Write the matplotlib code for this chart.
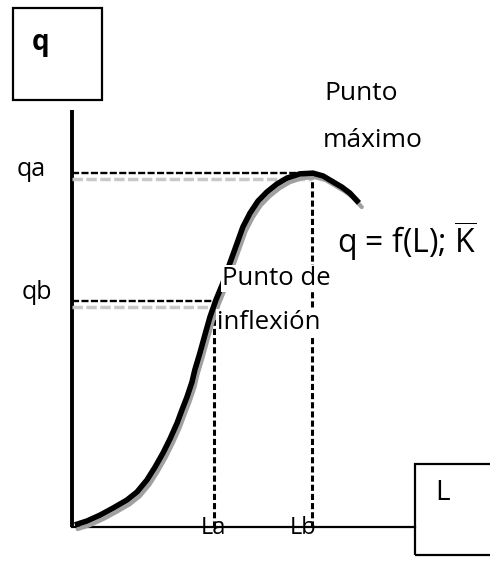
import matplotlib
matplotlib.use('Agg')
import matplotlib.pyplot as plt
import matplotlib.transforms as mtransforms
from matplotlib.patches import Rectangle

plt.rcParams['font.family'] = ['Open Sans', 'DejaVu Sans']
plt.rcParams['mathtext.fontset'] = 'custom'
plt.rcParams['mathtext.rm'] = 'Open Sans'

# curve (L units, q units)
L = [0.12, 0.62, 1.17, 1.71, 2.29, 2.71, 3.12, 3.46, 3.79, 4.08, 4.38, 4.58,
     4.79, 5.0, 5.12, 5.33, 5.54, 5.75, 6.0, 6.29, 6.58, 6.88, 7.12, 7.42,
     7.75, 8.12, 8.54, 8.96, 9.5, 10.04, 10.46, 10.88, 11.25, 11.58, 11.96]
q = [0.06, 0.17, 0.34, 0.54, 0.77, 1.0, 1.34, 1.71, 2.11, 2.51, 2.97, 3.34,
     3.71, 4.14, 4.49, 4.97, 5.49, 6.0, 6.49, 6.97, 7.54, 8.11, 8.57, 8.97,
     9.31, 9.57, 9.8, 9.97, 10.09, 10.11, 10.03, 9.86, 9.71, 9.54, 9.26]

La = 5.9
Lb = 10.0
qa = 10.1
qb = 6.45

y_labels = ['qa', 'qb']
x_labels = ['La', 'Lb']
formula = r'q = f(L); $\overline{\mathrm{K}}$'


def shadow(ax, dx, dy):
    return ax.transData + mtransforms.ScaledTranslation(dx / 72, -dy / 72,
                                                        ax.figure.dpi_scale_trans)


def main():
    fig = plt.figure(figsize=(4.9, 5.67), dpi=100)
    ax = fig.add_axes([0, 0, 1, 1])
    ax.set_xlim(-3, 17.42)
    ax.set_ylim(-1.143, 15.057)
    ax.axis('off')

    # axes lines
    ax.plot([0, 0], [0, 11.9], color='black', lw=2.8, solid_capstyle='butt')
    ax.plot([0, 14.3], [0, 0], color='black', lw=1.6)

    # boxes for axis names
    ax.add_patch(Rectangle((-2.46, 12.2), 3.71, 2.63, fill=False,
                           ec='black', lw=1.6))
    ax.add_patch(Rectangle((14.3, -0.8), 3.5, 2.6, fill=False,
                           ec='black', lw=1.6))
    ax.text(-1.29, 13.85, 'q', fontsize=20, fontweight='bold',
            ha='center', va='center')
    ax.text(15.46, 0.97, 'L', fontsize=20, ha='center', va='center')

    # guide lines
    dash = (0, (3, 1))
    for tr, col, w in [(shadow(ax, 0, 4), '#c8c8c8', 2.5),
                       (ax.transData, 'black', 1.7)]:
        ax.plot([0, Lb], [qa, qa], color=col, lw=w, ls=dash, transform=tr)
        ax.plot([0, La], [qb, qb], color=col, lw=w, ls=dash, transform=tr)
    ax.plot([La, La], [0, qb], color='black', lw=2.2, ls=(0, (2, 1)))
    ax.plot([Lb, Lb], [0, qa], color='black', lw=2.2, ls=(0, (2, 1)))

    # production curve with its shadow
    ax.plot(L, q, color='#a0a0a0', lw=3, transform=shadow(ax, 2, 3),
            solid_joinstyle='round', solid_capstyle='round')
    ax.plot(L, q, color='black', lw=4, solid_joinstyle='round',
            solid_capstyle='butt', zorder=3)

    # tick-like labels
    ax.text(-1.7, qa + 0.1, y_labels[0], fontsize=18, ha='center', va='center')
    ax.text(-1.46, qb + 0.25, y_labels[1], fontsize=18, ha='center', va='center')
    ax.text(La, -0.03, x_labels[0], fontsize=17, ha='center', va='center',
            zorder=4)
    ax.text(Lb - 0.35, -0.03, x_labels[1], fontsize=17, ha='center',
            va='center', zorder=4)

    # annotations
    ax.text(10.5, 12.2, 'Punto', fontsize=19, va='baseline')
    ax.text(10.45, 10.86, 'máximo', fontsize=19, va='baseline')
    box = dict(facecolor='white', edgecolor='none', pad=0.5)
    ax.text(6.25, 6.91, 'Punto de', fontsize=18.5, va='baseline', bbox=box,
            zorder=5)
    ax.text(6.04, 5.66, 'inflexión', fontsize=18.5, va='baseline', bbox=box,
            zorder=5)
    ax.text(11.04, 7.83, formula, fontsize=23, va='baseline')

    fig.savefig('out.png', dpi=100)


if __name__ == '__main__':
    main()
